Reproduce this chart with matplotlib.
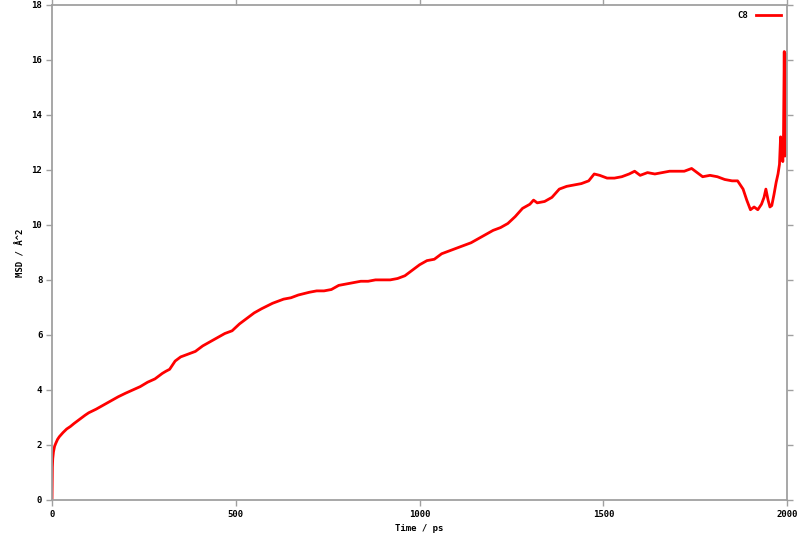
import matplotlib.pyplot as plt

# MSD of C8
time_ps = [0, 0.5, 1, 2, 4, 7, 10, 15, 20, 30, 40, 50, 60, 70, 80, 90, 100,
           120, 140, 160, 180, 200, 220, 240, 260, 280, 300, 310, 320, 335, 350,
           370, 390, 410, 430, 450, 470, 490, 510, 530, 550, 570, 600, 630, 650,
           670, 700, 720, 740, 760, 780, 800, 820, 840, 860, 880, 900, 920, 940,
           960, 980, 1000, 1020, 1040, 1060, 1080, 1100, 1120, 1140, 1160, 1180,
           1200, 1220, 1240, 1260, 1280, 1300, 1310, 1320, 1340, 1360, 1380,
           1400, 1420, 1440, 1460, 1475, 1490, 1510, 1530, 1550, 1570, 1585,
           1600, 1620, 1640, 1660, 1680, 1700, 1720, 1740, 1755, 1770, 1790,
           1810, 1830, 1850, 1865, 1880, 1890, 1900, 1910, 1920, 1930, 1937,
           1942, 1948, 1953, 1958, 1964, 1970, 1975, 1979, 1982, 1984, 1986,
           1988, 1990, 1992, 1994, 1996, 1998, 2000]
msd = [0.0, 0.6, 1.2, 1.5, 1.75, 1.95, 2.05, 2.2, 2.3, 2.45, 2.58, 2.67, 2.78,
       2.88, 2.98, 3.08, 3.17, 3.3, 3.45, 3.6, 3.75, 3.88, 4.0, 4.12, 4.28,
       4.4, 4.6, 4.68, 4.75, 5.05, 5.2, 5.3, 5.4, 5.6, 5.75, 5.9, 6.05,
       6.15, 6.4, 6.6, 6.8, 6.95, 7.15, 7.3, 7.35, 7.45, 7.55, 7.6, 7.6, 7.65,
       7.8, 7.85, 7.9, 7.95, 7.95, 8.0, 8.0, 8.0, 8.05, 8.15, 8.35, 8.55, 8.7,
       8.75, 8.95, 9.05, 9.15, 9.25, 9.35, 9.5, 9.65, 9.8, 9.9, 10.05, 10.3,
       10.6, 10.75, 10.9, 10.8, 10.85, 11.0, 11.3, 11.4, 11.45, 11.5, 11.6,
       11.85, 11.8, 11.7, 11.7, 11.75, 11.85, 11.95, 11.8, 11.9, 11.85, 11.9,
       11.95, 11.95, 11.95, 12.05, 11.9, 11.75, 11.8, 11.75, 11.65, 11.6,
       11.6, 11.3, 10.9, 10.55, 10.65, 10.55, 10.75, 11.0, 11.3, 10.9, 10.65,
       10.7, 11.1, 11.55, 11.85, 12.2, 13.2, 12.4, 12.9, 12.3, 13.3, 16.3,
       12.5, 15.7, 15.9, 16.2]

plt.rcParams['font.family'] = ['DejaVu Sans Mono']
plt.rcParams['font.weight'] = 'bold'

fig = plt.figure(figsize=(8, 5.33), dpi=100)
ax = fig.add_axes([0.065, 0.062, 0.919, 0.929])

ax.plot(time_ps, msd, color='#ff0000', lw=2.0, label='C8')

ax.set_xlim(0, 2000)
ax.set_ylim(0, 18)
ax.set_xticks(range(0, 2001, 500))
ax.set_yticks(range(0, 19, 2))

grey = '#a0a0a0'
for s in ax.spines.values():
    s.set_color(grey)
    s.set_linewidth(1.3)
ax.tick_params(direction='out', length=4, width=1, color=grey, labelsize=6.5,
               top=True, right=True, pad=3)
for lab in ax.get_xticklabels() + ax.get_yticklabels():
    lab.set_fontweight('bold')

ax.set_xlabel('Time / ps', fontsize=6.5, fontweight='bold', labelpad=4)
ax.set_ylabel('MSD / Å^2', fontsize=6.5, fontweight='bold', labelpad=4)

leg = ax.legend(loc='upper right', frameon=False, markerfirst=False,
                handlelength=2.8, fontsize=6.5, borderaxespad=0.3)

fig.savefig('out.png')
